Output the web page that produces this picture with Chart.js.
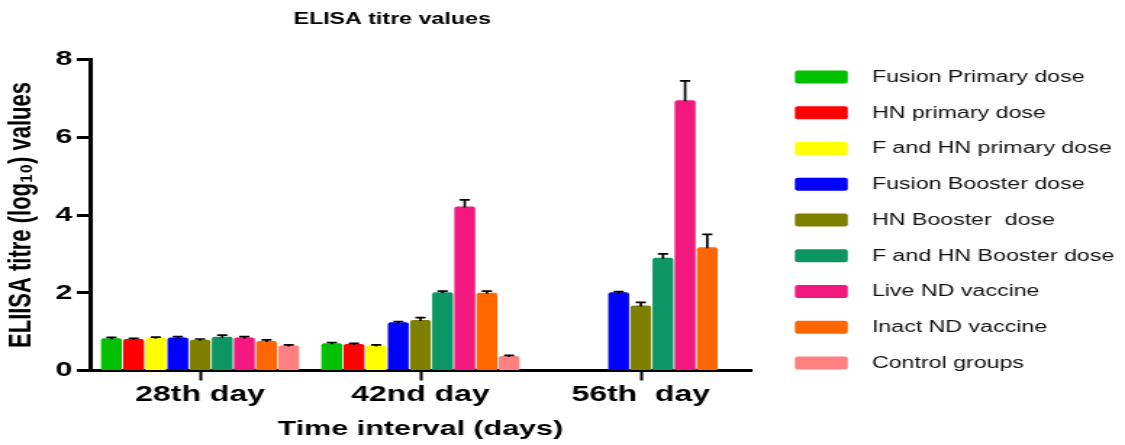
<!DOCTYPE html>
<html>
<head>
<meta charset="utf-8">
<script src="https://cdn.jsdelivr.net/npm/chart.js@4.4.1/dist/chart.umd.min.js"></script>
<style>
  html, body { margin: 0; padding: 0; background: #ffffff; }
  #elisa { display: block; }
</style>
</head>
<body>
<canvas id="elisa" width="776" height="445" style="width:1125px;height:445px;display:block"></canvas>
<script>
// Sampling days
const categories = ['28th day', '42nd day', '56th  day'];

// Group names
const seriesNames = [
  'Fusion Primary dose',
  'HN primary dose',
  'F and HN primary dose',
  'Fusion Booster dose',
  'HN Booster  dose',
  'F and HN Booster dose',
  'Live ND vaccine',
  'Inact ND vaccine',
  'Control groups'
];

// Mean ELISA titres (log10) per group, one value per sampling day
const fusionPrimary  = [0.83, 0.70, null];
const hnPrimary      = [0.81, 0.68, null];
const fhnPrimary     = [0.84, 0.64, null];
const fusionBooster  = [0.85, 1.24, 2.01];
const hnBooster      = [0.79, 1.30, 1.67];
const fhnBooster     = [0.87, 2.01, 2.90];
const liveND         = [0.85, 4.22, 6.95];
const inactND        = [0.76, 2.00, 3.17];
const controlGroups  = [0.64, 0.37, null];

// Upper error (SEM) per group and day
const fusionPrimaryErr = [0.02, 0.02, null];
const hnPrimaryErr     = [0.02, 0.02, null];
const fhnPrimaryErr    = [0.02, 0.02, null];
const fusionBoosterErr = [0.02, 0.02, 0.02];
const hnBoosterErr     = [0.02, 0.06, 0.08];
const fhnBoosterErr    = [0.04, 0.03, 0.10];
const liveNDErr        = [0.02, 0.17, 0.50];
const inactNDErr       = [0.03, 0.04, 0.33];
const controlErr       = [0.02, 0.02, null];

// Y axis ticks
const yTicks = [0, 2, 4, 6, 8];

const seriesValues = [fusionPrimary, hnPrimary, fhnPrimary, fusionBooster, hnBooster,
                      fhnBooster, liveND, inactND, controlGroups];
const seriesErrors = [fusionPrimaryErr, hnPrimaryErr, fhnPrimaryErr, fusionBoosterErr, hnBoosterErr,
                      fhnBoosterErr, liveNDErr, inactNDErr, controlErr];
const seriesColors = ['#00c000', '#ff0000', '#ffff00', '#0000ff', '#808000',
                      '#0c9664', '#f2187f', '#ff6600', '#ff8080'];

const FONT = "'Liberation Sans', Arial, Helvetica, sans-serif";

// Upward error bars with caps
const errorBars = {
  id: 'errorBars',
  afterDatasetsDraw(chart) {
    const ctx = chart.ctx;
    const y = chart.scales.y;
    ctx.save();
    ctx.strokeStyle = '#000';
    ctx.lineWidth = 1.7;
    chart.data.datasets.forEach((ds, di) => {
      const meta = chart.getDatasetMeta(di);
      meta.data.forEach((bar, i) => {
        const v = ds.data[i];
        const e = ds.errors[i];
        if (v === null || e === null) return;
        const yv = y.getPixelForValue(v);
        const yt = y.getPixelForValue(v + e);
        ctx.beginPath();
        ctx.moveTo(bar.x, yv + 1);
        ctx.lineTo(bar.x, yt);
        ctx.moveTo(bar.x - 3.5, yt);
        ctx.lineTo(bar.x + 3.5, yt);
        ctx.stroke();
      });
    });
    ctx.restore();
  }
};

// Heading and series key
const headingAndKey = {
  id: 'headingAndKey',
  afterDraw(chart) {
    const ctx = chart.ctx;
    ctx.save();
    ctx.fillStyle = '#000';
    ctx.font = 'bold 16px ' + FONT;
    ctx.textAlign = 'center';
    ctx.textBaseline = 'alphabetic';
    ctx.fillText('ELISA titre values', 270.5, 24);

    ctx.font = '16px ' + FONT;
    ctx.textAlign = 'left';
    ctx.textBaseline = 'middle';
    chart.data.datasets.forEach((ds, i) => {
      const cy = 77 + 35.75 * i;
      ctx.fillStyle = ds.backgroundColor;
      ctx.beginPath();
      ctx.roundRect(548.3, cy - 6.5, 36.5, 13, 2);
      ctx.fill();
      ctx.fillStyle = '#111';
      ctx.fillText(ds.label, 601.4, cy + 0.5);
    });
    ctx.restore();
  }
};

new Chart(document.getElementById('elisa'), {
  type: 'bar',
  data: {
    labels: categories,
    datasets: seriesNames.map((name, i) => ({
      label: name,
      data: seriesValues[i],
      errors: seriesErrors[i],
      backgroundColor: seriesColors[i],
      borderWidth: 0,
      borderRadius: 2,
      barPercentage: 0.94,
      categoryPercentage: 0.905
    }))
  },
  options: {
    responsive: false,
    animation: false,
    devicePixelRatio: 1,
    layout: { padding: { top: 59.5, right: 258, bottom: 0, left: 0 } },
    plugins: {
      legend: { display: false },
      title: { display: false },
      tooltip: { enabled: false }
    },
    scales: {
      x: {
        z: 1,
        grid: {
          display: true, drawOnChartArea: false, drawTicks: true, offset: false,
          tickLength: 10, tickWidth: 2, tickColor: '#000'
        },
        border: { display: true, color: '#000', width: 3 },
        ticks: {
          color: '#000', padding: 1, maxRotation: 0, autoSkip: false,
          font: { family: FONT, size: 22, weight: 'bold' }
        },
        title: {
          display: true, text: 'Time interval (days)', color: '#000',
          font: { family: FONT, size: 21, weight: 'bold' },
          padding: { top: 0, bottom: 3 }
        },
        afterFit(scale) { scale.height = 74.5; }
      },
      y: {
        min: 0, max: 8,
        afterBuildTicks(scale) { scale.ticks = yTicks.map(v => ({ value: v })); },
        grid: {
          display: true, drawOnChartArea: false, drawTicks: true,
          tickLength: 9, tickWidth: 3, tickColor: '#000'
        },
        border: { display: true, color: '#000', width: 3 },
        ticks: {
          color: '#000', padding: 3,
          font: { family: FONT, size: 21, weight: 'bold' }
        },
        title: {
          display: true, text: 'ELIISA titre (log\u2081\u2080) values', color: '#000',
          font: { family: FONT, size: 22, weight: 'bold' },
          padding: { top: 2, bottom: 0 }
        },
        afterFit(scale) { scale.width = 62; }
      }
    }
  },
  plugins: [errorBars, headingAndKey]
});
</script>
</body>
</html>
